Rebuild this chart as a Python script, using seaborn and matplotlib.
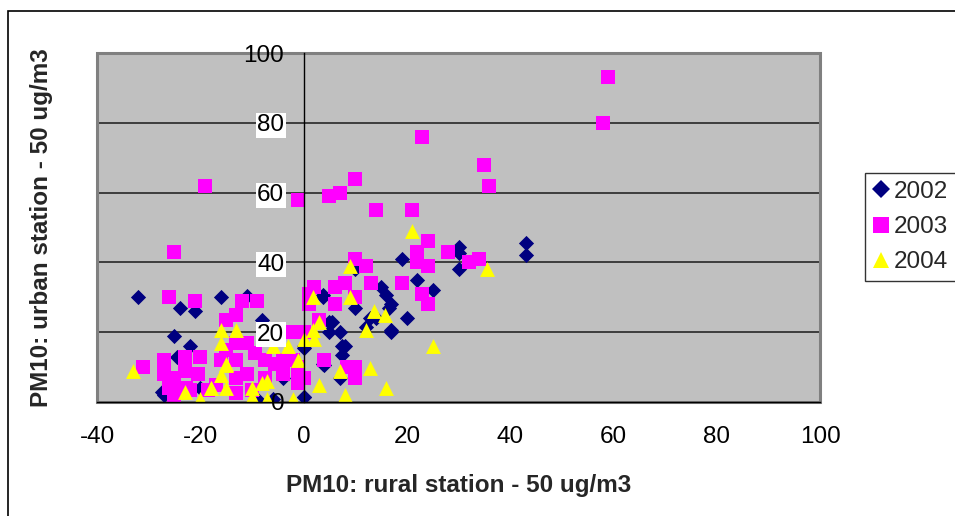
import matplotlib
matplotlib.use("Agg")
import matplotlib.pyplot as plt
import seaborn as sns
import pandas as pd
from matplotlib.patches import Rectangle
from matplotlib.lines import Line2D

# 2002 - navy diamonds
x_2002 = [-32, -24, -21, -16, -11, -25, -22, -24.5, -27.5, -27, -8, -4, 0, -9, -6, -20, 0,
          3.7, 5, 7, 7.5, 7.5, 4, 7, 0, 15, 16, 14, 17, 16.6, 12.8, 10, 0,
          19, 30, 30, 30, 43, 43, 22, 25, 17, 20, 17, 12, 5.5, 5, 8, 3.7, 10, 3.7]
y_2002 = [30, 27, 26, 30, 30.5, 19, 16, 13, 3, 2, 23.5, 7, 1.5, 1, 1, 4, 16,
          30.7, 23, 20, 16, 13.5, 10.5, 7, 1.5, 33, 30.7, 24, 20.6, 27, 24, 27, 15.5,
          41, 44.5, 42.6, 38, 45.5, 42, 35, 32, 28, 24, 20, 21.5, 23, 20, 16, 11, 38, 30]

# 2003 - magenta squares
x_2003 = [59, 58, 23, 35, 36, -19, -1, 5, 7, 10, 14, 21, -25,
          24, 22, 28, 24, 22, 32, 34, 19, 23, 24, 10, 12, 13, 2, 6, 8,
          6, 10, 1, 3, -2, 0, 4, 10, 10, -1, 0, -1, 8.5,
          -26, -21, -12, -9, -15, -13, -31, -27, -27, -23, -20, -25, -25, -20.5, -22, -18.5,
          -13, -13, -11, -9.5, -7.5, -5.6, -4, -13, -11, -13, -10, -7.5, -15, -4, -1, -2, 1,
          -23, -26, -22.7, -25, -16, -17]
y_2003 = [93, 80, 76, 68, 62, 62, 58, 59, 60, 64, 55, 55, 43,
          46, 43, 43, 39, 40, 40, 41, 34, 31, 28, 41, 39, 34, 33, 33, 34,
          28, 30, 28, 23.5, 20, 20, 12, 10, 7, 10, 7, 5.5, 10,
          30, 29, 29, 29, 23.5, 25, 10, 12, 8, 13, 13, 7, 3.5, 8, 3.5, 3.5,
          17, 12, 17, 14, 12, 11, 12, 7, 8, 2.5, 3.5, 7, 15, 8, 7, 12, 31,
          9, 4, 4, 1.5, 12, 5]

# 2004 - yellow triangles
x_2004 = [21, 9, 35.6, 25, 16, 1.8, 9, 13.7, 15.7, 12, 3, 1.8, 0, 2, -1, 7, 12.8, 3, 8, -2,
          -16, -13, -16, -6, -3, -15, -16, -18, -15, -10, -8, -7, -7, -10,
          -33, -23, -20, -18, -15]
y_2004 = [49, 39, 38, 16, 4, 30, 30, 26, 25, 20.6, 23, 20.6, 18, 18, 12, 9, 9.7, 5, 2, 1,
          20.6, 20.6, 17, 16, 16, 10.6, 7.7, 4, 4, 4, 5.4, 6, 1, 1.5,
          9, 3, 1, 4, 11]

x_ticks = [-40, -20, 0, 20, 40, 60, 80, 100]
y_ticks = [0, 20, 40, 60, 80, 100]

df = pd.DataFrame({
    "x": x_2002 + x_2003 + x_2004,
    "y": y_2002 + y_2003 + y_2004,
    "year": ["2002"] * len(x_2002) + ["2003"] * len(x_2003) + ["2004"] * len(x_2004),
})

sns.set_style("white")
plt.rcParams["font.family"] = ["Liberation Sans", "DejaVu Sans"]
plt.rcParams["axes.unicode_minus"] = False

fig = plt.figure(figsize=(9.55, 5.16), dpi=100)
ax = fig.add_axes([97 / 955, 1 - 402 / 516, (820 - 97) / 955, (402 - 53) / 516])
ax.set_facecolor("#c0c0c0")

kleuren = {"2002": "#000080", "2003": "#ff00ff", "2004": "#ffff00"}
vormen = {"2002": "D", "2003": "s", "2004": "^"}
maten = {"2002": 60, "2003": 115, "2004": 115}

for jaar in ["2002", "2003", "2004"]:
    sub = df[df["year"] == jaar]
    sns.scatterplot(data=sub, x="x", y="y", ax=ax, color=kleuren[jaar], marker=vormen[jaar],
                    s=maten[jaar], linewidth=0, zorder=2, legend=False)

# gridlines onder de punten
for t in y_ticks[1:]:
    ax.axhline(t, color="#333333", lw=1.3, zorder=0.5)

ax.set_xlim(-40, 100)
ax.set_ylim(0, 100)
ax.set_xticks(x_ticks)
ax.set_yticks(y_ticks)
ax.set_axisbelow(False)

ax.spines["top"].set_visible(False)
ax.spines["right"].set_visible(False)
ax.spines["left"].set_position(("data", 0))
ax.spines["left"].set_color("black")
ax.spines["left"].set_linewidth(1.0)
ax.spines["bottom"].set_color("black")
ax.spines["bottom"].set_linewidth(1.0)
ax.add_patch(Rectangle((0, 0), 1, 1, transform=ax.transAxes, fill=False,
                       edgecolor="#808080", lw=2.2, zorder=0.6, clip_on=False))

ax.tick_params(axis="x", direction="out", length=6, width=1, pad=11, labelsize=17.5, colors="black")
ax.tick_params(axis="y", direction="out", length=6, width=1, pad=8, labelsize=17.5, colors="black")
for lab in ax.get_yticklabels():
    if lab.get_text() not in ("0", "100"):
        lab.set_bbox(dict(facecolor="white", edgecolor="none", pad=1))
    lab.set_zorder(5)

ax.set_xlabel("PM10: rural station - 50 ug/m3", fontsize=17.5, fontweight="bold", labelpad=19)
ax.set_ylabel("PM10: urban station - 50 ug/m3", fontsize=17.5, fontweight="bold")
ax.yaxis.set_label_coords(53 / 955, (1 - 228 / 516), transform=fig.transFigure)

handles = [Line2D([], [], linestyle="none", marker=vormen[j], color=kleuren[j],
                  markersize=(9 if j == "2002" else 11), markeredgewidth=0) for j in kleuren]
leg = ax.legend(handles, list(kleuren), loc="center left", bbox_to_anchor=(865 / 955, 1 - 227 / 516),
                bbox_transform=fig.transFigure, frameon=True, fancybox=False, fontsize=17.5,
                handlelength=0.7, handletextpad=0.2, borderpad=0.3, labelspacing=0.55,
                borderaxespad=0)
leg.get_frame().set_edgecolor("black")
leg.get_frame().set_linewidth(1.0)

# buitenkader
fig.add_artist(Rectangle((8 / 955, -0.1), 2, 1 - 11 / 516 + 0.1, transform=fig.transFigure,
                         fill=False, edgecolor="black", lw=1.2))

fig.savefig("out.png", dpi=100)
